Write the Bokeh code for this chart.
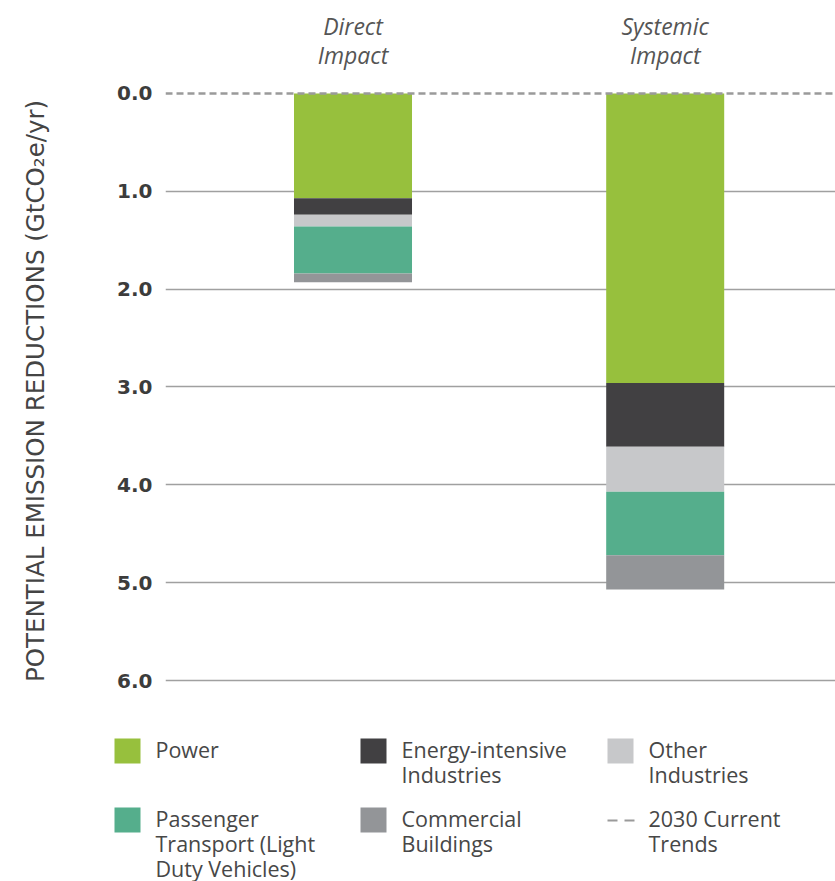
from bokeh.plotting import figure
from bokeh.models import Range1d, FixedTicker, Span, ColumnDataSource
from bokeh.embed import file_html
from bokeh.resources import INLINE
from bokeh.core.properties import value

# ---- data ----
categories = ["Direct Impact", "Systemic Impact"]
category_labels = ["Direct\nImpact", "Systemic\nImpact"]
sectors = ["Power", "Energy-intensive Industries", "Other Industries",
           "Passenger Transport (Light Duty Vehicles)", "Commercial Buildings"]
power = [1.07, 2.96]
energy_intensive = [0.17, 0.65]
other_industries = [0.12, 0.46]
passenger_transport = [0.48, 0.65]
commercial_buildings = [0.09, 0.35]
current_trends_2030 = 0.0
y_ticks = [0, 1, 2, 3, 4, 5, 6]
y_tick_labels = ["0.0", "1.0", "2.0", "3.0", "4.0", "5.0", "6.0"]
colors = ["#97C03D", "#414042", "#C7C8CA", "#55AE8C", "#939598"]
legend_labels = [["Power"], ["Energy-intensive", "Industries"], ["Other", "Industries"],
                 ["Passenger", "Transport (Light", "Duty Vehicles)"], ["Commercial", "Buildings"]]
trend_label = ["2030 Current", "Trends"]

FONT = "Open Sans"

# ---- main chart ----
src = ColumnDataSource(dict(
    x=list(range(len(categories))),
    power=power, energy=energy_intensive, other=other_industries,
    passenger=passenger_transport, commercial=commercial_buildings))

p = figure(width=835, height=700, output_backend="svg", toolbar_location=None,
           x_range=Range1d(-0.6006, 1.5455), y_range=Range1d(6.102, -0.02),
           min_border_left=165, min_border_right=0, min_border_top=91, min_border_bottom=10,
           x_axis_location="above", outline_line_color=None)

p.vbar_stack(["power", "energy", "other", "passenger", "commercial"], x="x", width=0.378,
             color=colors, source=src, line_color=None)

p.add_layout(Span(location=current_trends_2030, dimension="width", line_color="#9a9a9a",
                  line_dash="7 4", line_width=2.5))

p.xgrid.visible = False
p.ygrid.ticker = FixedTicker(ticks=y_ticks[1:])
p.ygrid.grid_line_color = "#a0a0a0"
p.ygrid.grid_line_width = 1.3

ya = p.yaxis[0]
ya.ticker = FixedTicker(ticks=y_ticks)
ya.major_label_overrides = {t: l for t, l in zip(y_ticks, y_tick_labels)}
ya.axis_line_color = None
ya.major_tick_line_color = None
ya.minor_tick_line_color = None
ya.major_tick_out = 0
ya.major_tick_in = 0
ya.major_label_standoff = 13
ya.major_label_text_font = "DejaVu Sans"
ya.major_label_text_font_style = "bold"
ya.major_label_text_font_size = "20px"
ya.major_label_text_color = "#3c3c3c"
ya.axis_label = "POTENTIAL EMISSION REDUCTIONS (GtCO\u2082e/yr)"
ya.axis_label_text_font = "DejaVu Sans"
ya.axis_label_text_font_style = "normal"
ya.axis_label_text_font_size = "24.5px"
ya.axis_label_text_color = "#444444"
ya.axis_label_standoff = 64

xa = p.xaxis[0]
xa.ticker = FixedTicker(ticks=list(range(len(categories))))
xa.major_label_overrides = {i: l for i, l in enumerate(category_labels)}
xa.axis_line_color = None
xa.major_tick_line_color = None
xa.minor_tick_line_color = None
xa.major_tick_out = 0
xa.major_tick_in = 0
xa.major_label_standoff = 21
xa.major_label_text_font = FONT
xa.major_label_text_font_style = "italic"
xa.major_label_text_font_size = "23px"
xa.major_label_text_line_height = 0.9
xa.major_label_text_color = "#555555"

# ---- legend (separate root, page-pixel coordinates) ----
lf = figure(width=835, height=181, output_backend="svg", toolbar_location=None,
            x_range=Range1d(0, 835), y_range=Range1d(881, 700), min_border=0,
            x_axis_location=None, y_axis_location=None, outline_line_color=None)
lf.grid.visible = False

col_x = [114, 360, 607]
row_y = [738, 807]
sq_w, sq_h, txt_dx, txt_dy, line_h = 26, 25, 41, 10.5, 25

sq = dict(left=[], right=[], top=[], bottom=[], color=[])
tx = dict(x=[], y=[], text=[])
for i, (lines, c) in enumerate(zip(legend_labels, colors)):
    cx = col_x[i % 3]
    ry = row_y[i // 3]
    sq["left"].append(cx); sq["right"].append(cx + sq_w)
    sq["top"].append(ry); sq["bottom"].append(ry + sq_h); sq["color"].append(c)
    for k, ln in enumerate(lines):
        tx["x"].append(cx + txt_dx); tx["y"].append(ry + txt_dy + k * line_h); tx["text"].append(ln)

# 2030 current trends entry
tcx, tcy = col_x[2], row_y[1]
for k, ln in enumerate(trend_label):
    tx["x"].append(tcx + txt_dx); tx["y"].append(tcy + txt_dy + k * line_h); tx["text"].append(ln)

lf.quad(left="left", right="right", top="top", bottom="bottom", color="color",
        line_color=None, source=ColumnDataSource(sq))
lf.line(x=[tcx, tcx + sq_w + 1], y=[tcy + 13, tcy + 13], line_color="#9a9a9a",
        line_width=2, line_dash="10 7")
lf.text(x="x", y="y", text="text", source=ColumnDataSource(tx), text_font=value(FONT),
        text_font_size="21.5px", text_color="#474747", text_baseline="middle", text_align="left")

open("out.html", "w").write(file_html([p, lf], INLINE))
